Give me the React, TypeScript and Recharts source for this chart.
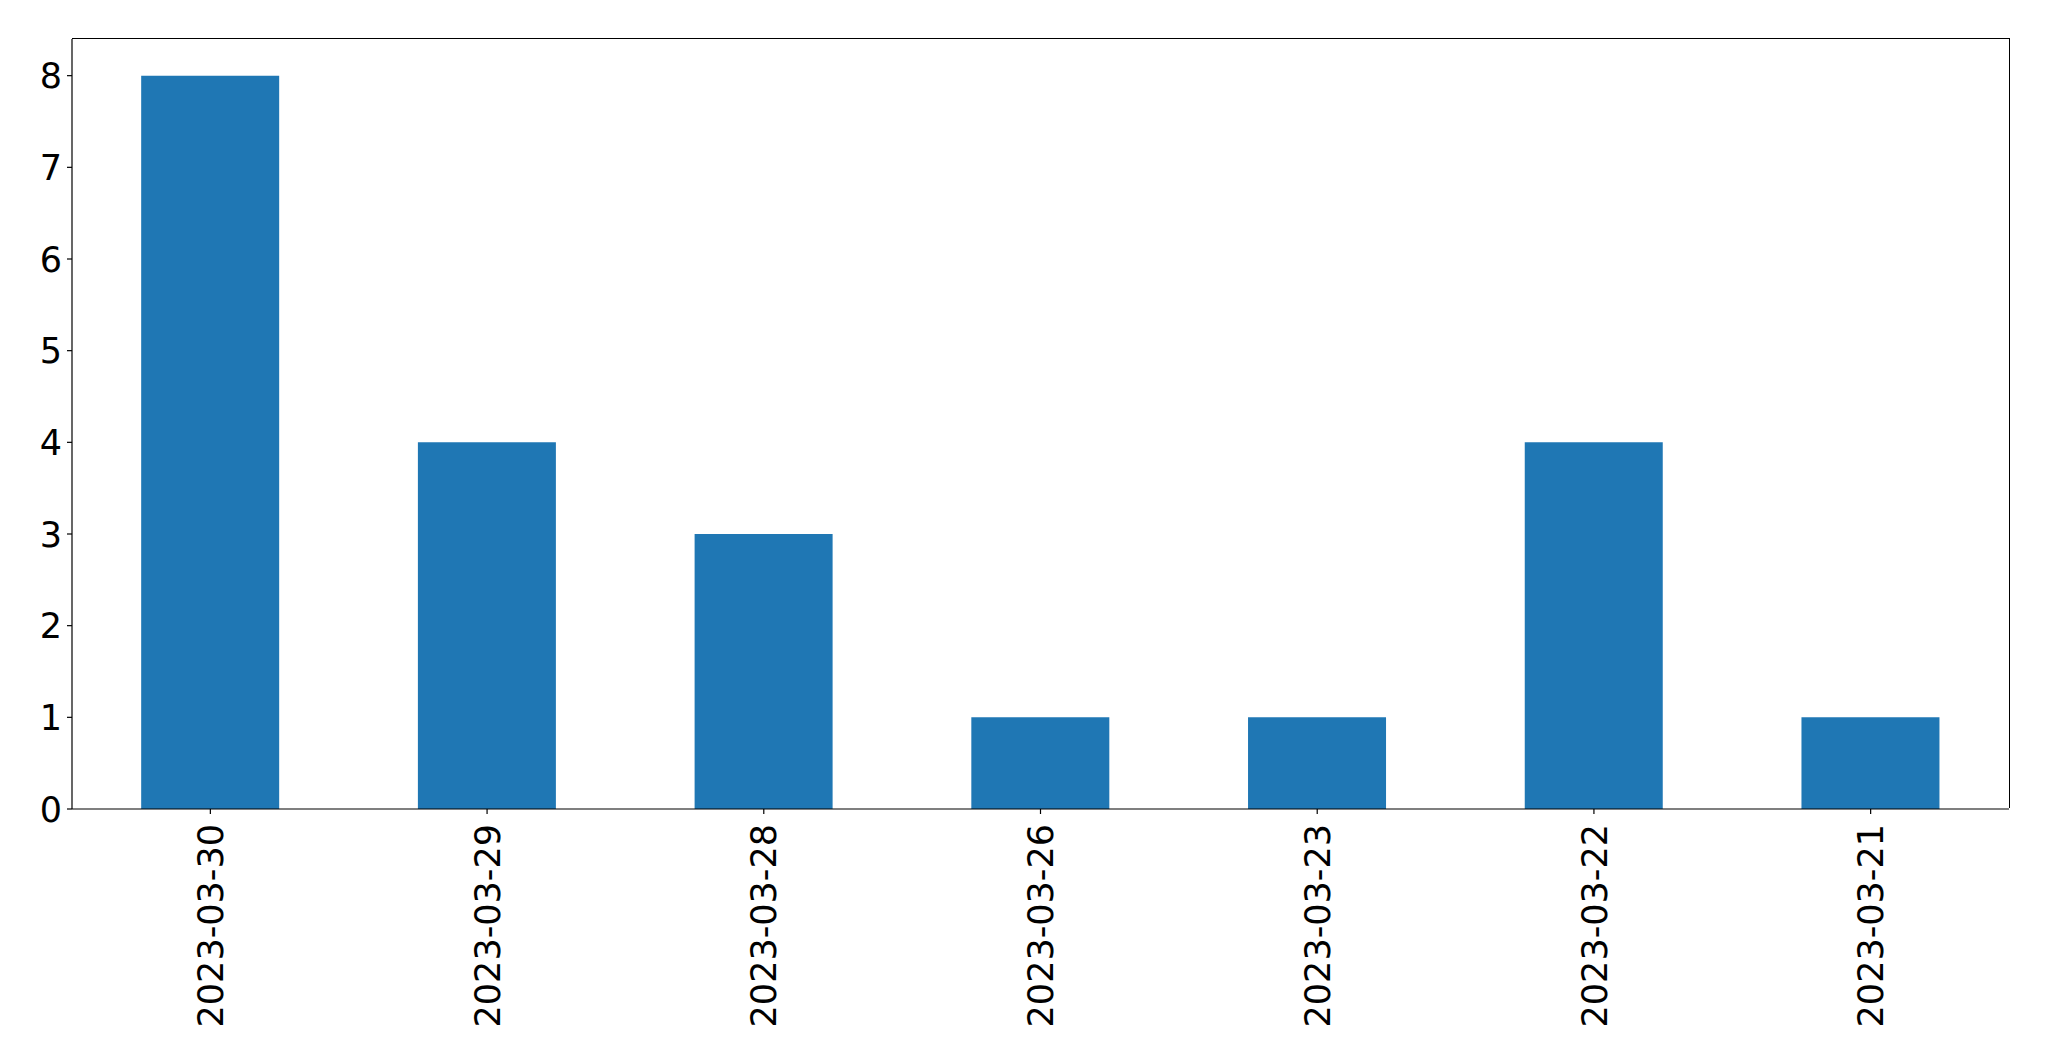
import { BarChart, Bar, XAxis, YAxis } from 'recharts';

// dates in the order shown (newest first) and the count for each
const dates = ['2023-03-30', '2023-03-29', '2023-03-28', '2023-03-26', '2023-03-23', '2023-03-22', '2023-03-21'];
const counts = [8, 4, 3, 1, 1, 4, 1];
const yTicks = [0, 1, 2, 3, 4, 5, 6, 7, 8];

const FONT = '"DejaVu Sans", sans-serif';
const FONT_SIZE = 35;

// plot box in page pixels
const BOX = { left: 72, top: 39, right: 40, bottom: 252 };
const W = 2049;
const H = 1061;

const RotatedTick = (props: { x?: number; y?: number; payload?: { value: string } }) => {
  const { x = 0, y = 0, payload } = props;
  return (
    <text
      x={x}
      y={y}
      transform={`rotate(-90, ${x}, ${y})`}
      textAnchor="end"
      dy="0.36em"
      fontSize={FONT_SIZE}
      fontFamily={FONT}
      fill="#000"
    >
      {payload?.value}
    </text>
  );
};

const LeftTick = (props: { x?: number; y?: number; payload?: { value: number } }) => {
  const { x = 0, y = 0, payload } = props;
  return (
    <text x={x} y={y} textAnchor="end" dy="0.36em" fontSize={FONT_SIZE} fontFamily={FONT} fill="#000">
      {payload?.value}
    </text>
  );
};

export default function App() {
  const data = dates.map((d, i) => ({ date: d, count: counts[i] }));

  return (
    <div style={{ position: 'absolute', left: 0, top: 0, width: W, height: H, background: '#fff' }}>
      <BarChart
        width={W}
        height={H}
        data={data}
        barCategoryGap="25%"
        margin={{ top: BOX.top, right: BOX.right, left: 0, bottom: 0 }}
      >
        <XAxis
          dataKey="date"
          interval={0}
          height={BOX.bottom}
          tick={<RotatedTick />}
          tickSize={5}
          tickMargin={10}
          axisLine={{ stroke: '#000', strokeWidth: 1.2 }}
          tickLine={{ stroke: '#000', strokeWidth: 1.2 }}
        />
        <YAxis
          width={BOX.left}
          domain={[0, 8.4]}
          ticks={yTicks}
          interval={0}
          tickSize={5}
          tickMargin={5}
          tick={<LeftTick />}
          axisLine={{ stroke: '#000', strokeWidth: 1.2 }}
          tickLine={{ stroke: '#000', strokeWidth: 1.2 }}
        />
        <Bar dataKey="count" fill="#1f77b4" isAnimationActive={false} />
      </BarChart>
      {/* frame around the plot area (top and right spines) */}
      <div
        style={{
          position: 'absolute',
          left: BOX.left,
          top: BOX.top - 0.6,
          width: W - BOX.left - BOX.right + 0.6,
          height: H - BOX.top - BOX.bottom,
          borderTop: '1.2px solid #000',
          borderRight: '1.2px solid #000',
          boxSizing: 'border-box',
          pointerEvents: 'none',
        }}
      />
    </div>
  );
}
